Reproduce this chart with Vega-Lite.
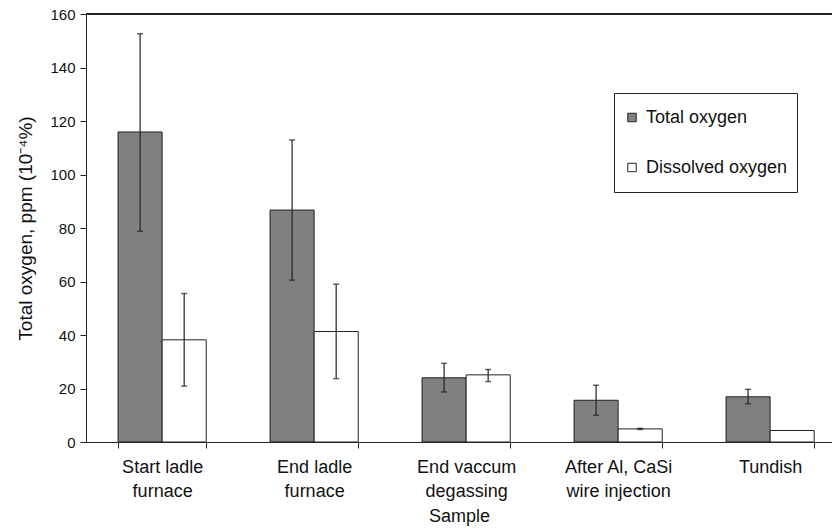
{
  "$schema": "https://vega.github.io/schema/vega-lite/v6.json",
  "width": 746,
  "height": 428,
  "autosize": {"type": "none"},
  "padding": {"left": 86, "top": 14, "right": 0, "bottom": 88},
  "background": "white",
  "config": {
    "font": "Liberation Sans",
    "view": {"stroke": null},
    "axis": {"domainColor": "#222", "tickColor": "#222", "labelColor": "#111", "titleColor": "#111", "grid": false, "titleFontWeight": "normal"}
  },
  "data": {
    "values": [
      {"sample": "Start ladle furnace", "type": "Total oxygen", "value": 115.9, "lo": 78.8, "hi": 152.6},
      {"sample": "Start ladle furnace", "type": "Dissolved oxygen", "value": 38.2, "lo": 20.9, "hi": 55.5},
      {"sample": "End ladle furnace", "type": "Total oxygen", "value": 86.7, "lo": 60.5, "hi": 112.9},
      {"sample": "End ladle furnace", "type": "Dissolved oxygen", "value": 41.3, "lo": 23.7, "hi": 59.0},
      {"sample": "End vaccum degassing", "type": "Total oxygen", "value": 24.0, "lo": 18.7, "hi": 29.4},
      {"sample": "End vaccum degassing", "type": "Dissolved oxygen", "value": 25.1, "lo": 22.6, "hi": 27.1},
      {"sample": "After Al, CaSi wire injection", "type": "Total oxygen", "value": 15.6, "lo": 10.0, "hi": 21.2},
      {"sample": "After Al, CaSi wire injection", "type": "Dissolved oxygen", "value": 4.9, "lo": 4.7, "hi": 5.1},
      {"sample": "Tundish", "type": "Total oxygen", "value": 16.9, "lo": 14.3, "hi": 19.7},
      {"sample": "Tundish", "type": "Dissolved oxygen", "value": 4.3, "lo": null, "hi": null}
    ]
  },
  "encoding": {
    "x": {
      "field": "sample",
      "type": "nominal",
      "sort": null,
      "scale": {"paddingInner": 0.42, "paddingOuter": 0.164, "align": 0.643},
      "axis": {
        "title": "Sample",
        "titleFontSize": 18,
        "titlePadding": 7,
        "labelFontSize": 18,
        "labelLineHeight": 24,
        "labelAngle": 0,
        "labelPadding": 10,
        "tickSize": 6,
        "tickBand": "extent",
        "labelExpr": "datum.value == 'Start ladle furnace' ? ['Start ladle', 'furnace'] : datum.value == 'End ladle furnace' ? ['End ladle', 'furnace'] : datum.value == 'End vaccum degassing' ? ['End vaccum', 'degassing'] : datum.value == 'After Al, CaSi wire injection' ? ['After Al, CaSi', 'wire injection'] : datum.value"
      }
    },
    "xOffset": {"field": "type", "type": "nominal", "scale": {"domain": ["Total oxygen", "Dissolved oxygen"], "paddingInner": 0, "paddingOuter": 0}}
  },
  "layer": [
    {
      "mark": {"type": "bar", "stroke": "#222", "strokeWidth": 1},
      "encoding": {
        "y": {
          "field": "value",
          "type": "quantitative",
          "scale": {"domain": [0, 160], "nice": false},
          "axis": {
            "title": "Total oxygen, ppm (10⁻⁴%)",
            "titleFontSize": 19,
            "titlePadding": 14,
            "labelFontSize": 15,
            "labelPadding": 5,
            "tickSize": 6,
            "values": [0, 20, 40, 60, 80, 100, 120, 140, 160]
          }
        },
        "fill": {
          "field": "type",
          "type": "nominal",
          "scale": {"domain": ["Total oxygen", "Dissolved oxygen"], "range": ["#808080", "#ffffff"]},
          "legend": {
            "title": null,
            "orient": "none",
            "legendX": 528,
            "legendY": 79,
            "padding": 9,
            "clipHeight": 31,
            "rowPadding": 19,
            "strokeColor": "#222",
            "fillColor": "white",
            "symbolType": "square",
            "symbolSize": 72,
            "symbolStrokeColor": "#222",
            "symbolStrokeWidth": 1,
            "symbolOffset": 0,
            "labelFontSize": 18,
            "labelOffset": 5,
            "labelColor": "#111"
          }
        }
      }
    },
    {
      "transform": [{"filter": "datum.lo != null"}],
      "mark": {"type": "rule", "color": "#222", "strokeWidth": 1.2},
      "encoding": {
        "y": {"field": "lo", "type": "quantitative"},
        "y2": {"field": "hi"}
      }
    },
    {
      "transform": [{"filter": "datum.lo != null"}],
      "mark": {"type": "tick", "color": "#222", "orient": "horizontal", "size": 6, "thickness": 1.5},
      "encoding": {"y": {"field": "lo", "type": "quantitative"}}
    },
    {
      "transform": [{"filter": "datum.lo != null"}],
      "mark": {"type": "tick", "color": "#222", "orient": "horizontal", "size": 6, "thickness": 1.5},
      "encoding": {"y": {"field": "hi", "type": "quantitative"}}
    },
    {
      "mark": {"type": "rule", "color": "#222", "strokeWidth": 1},
      "encoding": {"y": {"datum": 160}, "x": null, "xOffset": null}
    }
  ]
}
